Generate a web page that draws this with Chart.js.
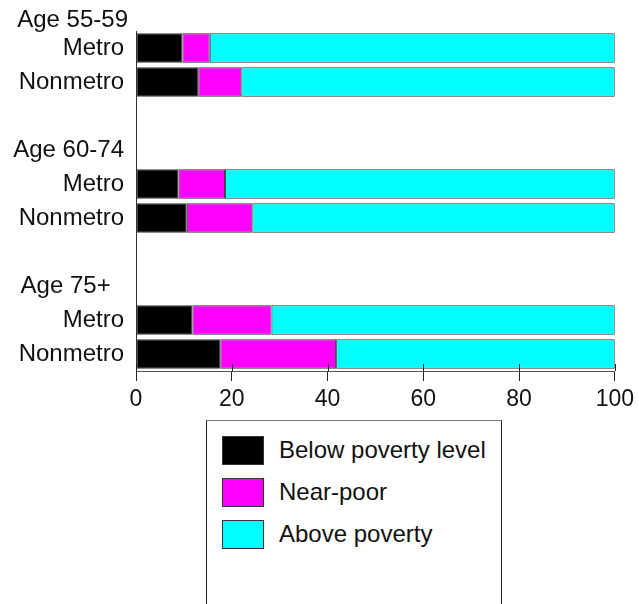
<!DOCTYPE html>
<html>
<head>
<meta charset="utf-8">
<script src="https://cdn.jsdelivr.net/npm/chart.js@4"></script>
<style>
  body { margin: 0; background: #fff; font-family: "Liberation Sans", Arial, sans-serif; }
  #wrap { position: relative; width: 639px; height: 604px; overflow: hidden; }
  #chartBox { position: absolute; left: 0; top: 0; width: 639px; height: 420px; }
  #legend {
    position: absolute; left: 206px; top: 420px; width: 296px; height: 200px;
    border-top: 1.5px solid #777; border-left: 1.5px solid #222; border-right: 1.5px solid #222;
    box-sizing: border-box;
  }
  .item { position: absolute; left: 15px; height: 28px; display: flex; align-items: center; }
  .swatch { width: 40px; height: 27px; border: 1px solid #333; margin-right: 15px; }
  .item span { font-size: 24px; color: #111; }
</style>
</head>
<body>
<div id="wrap">
  <div id="chartBox"><canvas id="povertyChart"></canvas></div>
  <div id="legend"></div>
</div>
<script>
// Rows (blank / group slots carry no bar)
const rowLabels = ["Metro", "Nonmetro", "", "Age 60-74", "Metro", "Nonmetro", "", "Age 75+  ", "Metro", "Nonmetro"];
const topGroupLabel = "Age 55-59";

// Percent of population
const belowPoverty = [9.7, 13.0, null, null, 8.9, 10.6, null, null, 11.8, 17.6];
const nearPoor     = [5.7, 9.0, null, null, 9.7, 13.7, null, null, 16.5, 24.2];
const abovePoverty = [84.6, 78.0, null, null, 81.4, 75.7, null, null, 71.7, 58.2];

const xTicks = [0, 20, 40, 60, 80, 100];

const seriesNames = ["Below poverty level", "Near-poor", "Above poverty"];
const seriesColors = ["#000000", "#ff00ff", "#00ffff"];

const FAMILY = "'Liberation Sans', Arial, sans-serif";
const LABEL_FONT = { family: FAMILY, size: 24 };
const TICK_FONT = { family: FAMILY, size: 23 };

// Draws the first group label above the plot and ticks crossing the x axis
const extrasPlugin = {
  id: "extras",
  afterDatasetsDraw(chart) {
    const { ctx, scales } = chart;
    const x = scales.x, y = scales.y;
    ctx.save();
    ctx.strokeStyle = "#222";
    ctx.lineWidth = 1;
    xTicks.forEach((v) => {
      const px = Math.round(x.getPixelForValue(v)) + 0.5;
      ctx.beginPath();
      ctx.moveTo(px, y.bottom - 7);
      ctx.lineTo(px, y.bottom);
      ctx.stroke();
    });
    const slot = y.getPixelForValue(1) - y.getPixelForValue(0);
    ctx.font = `${LABEL_FONT.size}px ${FAMILY}`;
    ctx.fillStyle = "#111";
    ctx.textAlign = "right";
    ctx.textBaseline = "middle";
    ctx.fillText(topGroupLabel, y.right - 8, y.getPixelForValue(0) - slot * 0.8);
    ctx.restore();
  },
};

const ctx = document.getElementById("povertyChart").getContext("2d");
const povertyChart = new Chart(ctx, {
  type: "bar",
  data: {
    labels: rowLabels,
    datasets: [belowPoverty, nearPoor, abovePoverty].map((values, i) => ({
      label: seriesNames[i],
      data: values,
      backgroundColor: seriesColors[i],
      borderColor: "#333",
      borderWidth: 1,
      borderSkipped: false,
      barPercentage: 0.87,
      categoryPercentage: 1,
    })),
  },
  plugins: [extrasPlugin],
  options: {
    indexAxis: "y",
    responsive: true,
    maintainAspectRatio: false,
    animation: false,
    layout: { padding: { top: 31, right: 24, left: 0, bottom: 0 } },
    plugins: {
      legend: { display: false },
      tooltip: { enabled: false },
    },
    scales: {
      x: {
        stacked: true,
        min: 0,
        max: 100,
        afterBuildTicks: (scale) => {
          scale.ticks = xTicks.map((v) => ({ value: v }));
        },
        afterFit: (scale) => {
          scale.height = 49;
        },
        ticks: { color: "#111", font: TICK_FONT, padding: 5, maxRotation: 0 },
        grid: { drawOnChartArea: false, drawTicks: true, tickLength: 10, color: "#222" },
        border: { display: true, color: "#555", width: 1 },
      },
      y: {
        stacked: true,
        afterFit: (scale) => {
          scale.width = 136;
        },
        ticks: { color: "#111", font: LABEL_FONT, padding: 12, autoSkip: false },
        grid: { display: false, drawTicks: false },
        border: { display: true, color: "#333", width: 1 },
      },
    },
  },
});

// HTML legend built from the chart's datasets
const legendEl = document.getElementById("legend");
legendEl.innerHTML = povertyChart.data.datasets
  .map(
    (ds, i) => `
      <div class="item" style="top:${15 + i * 42}px">
        <div class="swatch" style="background:${ds.backgroundColor}"></div>
        <span>${ds.label}</span>
      </div>`,
  )
  .join("");
</script>
</body>
</html>
